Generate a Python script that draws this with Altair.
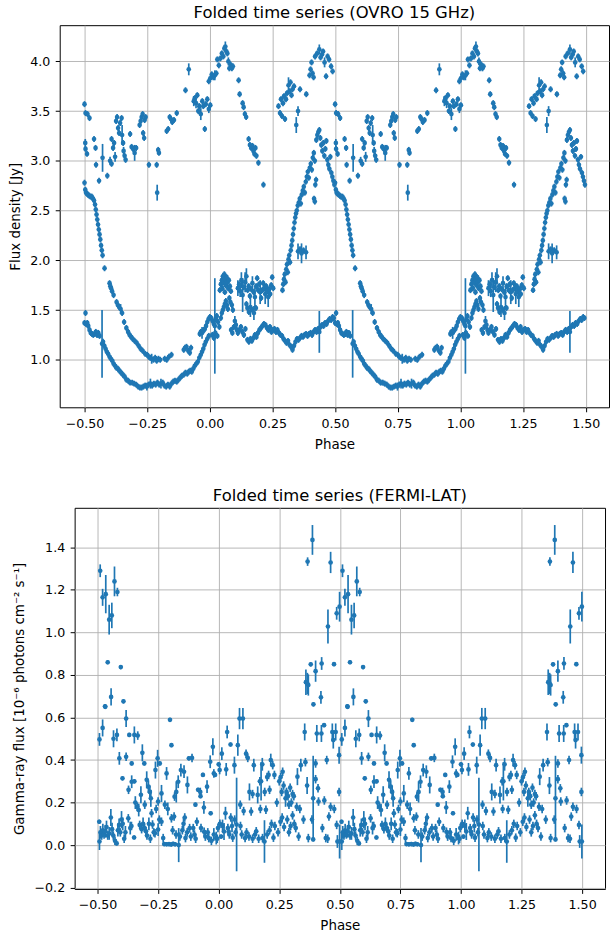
import altair as alt
import pandas as pd

BLUE = "#1f77b4"
FONT = "DejaVu Sans"

# ---------------------------------------------------------------------------
# OVRO 15 GHz folded light curve, one cycle (phase, flux density [Jy], error)
# ---------------------------------------------------------------------------
ovro_high = [
    (-0.500, 3.57, .03), (-0.496, 3.48, .03), (-0.488, 3.47, .03), (-0.480, 3.43, .03),
    (-0.497, 3.18, .04), (-0.496, 3.12, .03), (-0.490, 3.07, .03),
    (-0.462, 3.22, .03), (-0.456, 3.13, .03), (-0.454, 2.96, .03), (-0.442, 2.80, .03),
    (-0.428, 3.03, .14), (-0.409, 2.85, .03), (-0.398, 3.00, .04), (-0.392, 2.97, .03),
    (-0.392, 3.22, .03), (-0.386, 3.13, .03), (-0.382, 3.18, .03), (-0.378, 3.04, .05),
    (-0.374, 3.40, .03), (-0.370, 3.44, .03), (-0.366, 3.33, .03), (-0.362, 3.28, .03),
    (-0.358, 3.38, .03), (-0.352, 3.43, .03), (-0.350, 3.26, .10), (-0.346, 3.18, .03),
    (-0.344, 3.10, .04), (-0.340, 3.05, .03), (-0.336, 3.01, .03),
    (-0.318, 3.27, .03), (-0.312, 3.14, .03), (-0.306, 3.12, .03), (-0.300, 3.08, .08),
    (-0.294, 3.13, .03), (-0.280, 3.36, .03), (-0.276, 3.40, .03), (-0.272, 3.44, .03),
    (-0.268, 3.47, .03), (-0.266, 3.28, .03), (-0.262, 3.23, .03), (-0.260, 3.41, .03),
    (-0.256, 3.44, .03), (-0.243, 2.96, .03), (-0.212, 2.96, .03), (-0.206, 3.11, .03),
    (-0.203, 3.08, .03), (-0.210, 2.68, .08),
    (-0.172, 3.30, .03), (-0.166, 3.32, .03), (-0.160, 3.44, .03), (-0.155, 3.42, .03),
    (-0.150, 3.39, .03), (-0.143, 3.41, .03), (-0.132, 3.48, .03),
    (-0.097, 3.71, .03), (-0.084, 3.92, .06),
    (-0.064, 3.60, .05), (-0.060, 3.63, .03), (-0.055, 3.58, .05), (-0.050, 3.66, .03),
    (-0.046, 3.50, .03), (-0.042, 3.55, .03), (-0.036, 3.47, .06), (-0.030, 3.60, .03),
    (-0.026, 3.55, .03), (-0.020, 3.32, .03), (-0.016, 3.57, .03), (-0.010, 3.62, .03),
    (-0.004, 3.52, .04), (0.002, 3.56, .03),
    (-0.004, 3.80, .03), (0.002, 3.83, .03), (0.008, 3.87, .03), (0.014, 3.84, .03),
    (0.020, 3.86, .05), (0.026, 3.88, .03),
    (0.030, 4.02, .03), (0.036, 3.96, .03), (0.042, 4.03, .03), (0.048, 4.08, .03),
    (0.054, 4.05, .03), (0.058, 4.13, .03), (0.062, 4.15, .05), (0.066, 4.10, .03),
    (0.070, 4.08, .03), (0.074, 4.00, .04), (0.078, 3.93, .03), (0.082, 3.97, .03),
    (0.088, 3.93, .03), (0.092, 3.95, .03),
    (0.115, 3.81, .03), (0.119, 3.67, .03), (0.131, 3.58, .03), (0.135, 3.54, .03),
    (0.140, 3.47, .03), (0.145, 3.44, .03), (0.155, 3.22, .03), (0.160, 3.16, .03),
    (0.165, 3.13, .03), (0.170, 3.15, .03), (0.174, 3.10, .03), (0.178, 3.07, .03),
    (0.182, 3.13, .03), (0.186, 3.05, .03), (0.194, 2.98, .03), (0.214, 2.76, .03),
    (0.274, 3.55, .03), (0.280, 3.48, .03), (0.284, 3.62, .03), (0.288, 3.45, .03),
    (0.292, 3.58, .03), (0.296, 3.65, .03), (0.300, 3.42, .03), (0.304, 3.62, .03),
    (0.308, 3.68, .03), (0.314, 3.76, .08), (0.318, 3.70, .03), (0.322, 3.79, .03),
    (0.326, 3.66, .03), (0.330, 3.72, .03), (0.336, 3.75, .03),
    (0.345, 3.36, .08), (0.352, 3.50, .05), (0.360, 3.72, .03), (0.385, 3.67, .03),
    (0.398, 3.86, .03), (0.402, 3.92, .03), (0.406, 3.99, .03), (0.410, 3.88, .03),
    (0.414, 3.84, .03), (0.420, 4.05, .03), (0.428, 4.08, .03), (0.437, 4.12, .05),
    (0.442, 4.04, .03), (0.448, 4.07, .03), (0.452, 4.10, .03), (0.458, 3.99, .05),
    (0.464, 3.85, .03), (0.470, 4.05, .03), (0.476, 4.02, .03), (0.484, 3.95, .03),
    (0.490, 3.90, .03),
]

ovro_falling = [
    (-0.500, 2.78, .03), (-0.497, 2.71, .03), (-0.494, 2.68, .03), (-0.490, 2.67, .03),
    (-0.486, 2.66, .03), (-0.481, 2.65, .03), (-0.476, 2.64, .03), (-0.471, 2.64, .03),
    (-0.466, 2.62, .03), (-0.462, 2.60, .03), (-0.458, 2.56, .03), (-0.455, 2.51, .03),
    (-0.452, 2.46, .03), (-0.449, 2.41, .03), (-0.446, 2.36, .03), (-0.443, 2.31, .03),
    (-0.440, 2.26, .03), (-0.437, 2.21, .03), (-0.434, 2.15, .03), (-0.431, 2.10, .03),
    (-0.428, 2.05, .03), (-0.420, 1.92, .03),
    (-0.400, 1.77, .03), (-0.397, 1.74, .03), (-0.394, 1.72, .03), (-0.390, 1.69, .03),
    (-0.384, 1.65, .03), (-0.372, 1.58, .03), (-0.367, 1.55, .03), (-0.362, 1.53, .03),
    (-0.356, 1.51, .05), (-0.350, 1.47, .03), (-0.342, 1.38, .03), (-0.333, 1.32, .03),
    (-0.326, 1.28, .03), (-0.320, 1.25, .03), (-0.314, 1.23, .03), (-0.308, 1.21, .03),
    (-0.300, 1.19, .03), (-0.292, 1.17, .03), (-0.284, 1.14, .03), (-0.276, 1.11, .03),
    (-0.268, 1.09, .03), (-0.258, 1.06, .03), (-0.250, 1.05, .03), (-0.244, 1.03, .03),
    (-0.238, 1.02, .03), (-0.232, 1.01, .05), (-0.225, 1.00, .03), (-0.218, 1.02, .03),
    (-0.212, 0.99, .03), (-0.205, 1.01, .03), (-0.198, 1.00, .03), (-0.180, 1.01, .03),
    (-0.172, 1.00, .03), (-0.163, 1.03, .03), (-0.153, 1.05, .03),
    (-0.104, 1.10, .03), (-0.099, 1.12, .03), (-0.093, 1.13, .03), (-0.086, 1.09, .03),
    (-0.080, 1.07, .03), (-0.075, 1.12, .03),
]

ovro_trough = [
    (-0.500, 1.37, .03), (-0.496, 1.47, .03), (-0.494, 1.36, .03), (-0.489, 1.37, .03),
    (-0.485, 1.34, .03), (-0.480, 1.30, .03), (-0.475, 1.27, .03), (-0.470, 1.26, .03),
    (-0.465, 1.25, .03), (-0.460, 1.26, .03), (-0.455, 1.28, .03), (-0.450, 1.25, .03),
    (-0.445, 1.27, .03), (-0.440, 1.24, .03), (-0.430, 1.16, .34), (-0.426, 1.18, .03),
    (-0.421, 1.14, .03), (-0.416, 1.11, .03), (-0.411, 1.08, .03), (-0.406, 1.06, .03),
    (-0.400, 1.03, .03), (-0.395, 1.01, .03), (-0.389, 0.99, .03), (-0.384, 0.96, .03),
    (-0.378, 0.94, .03), (-0.373, 0.92, .03), (-0.367, 0.91, .03), (-0.361, 0.89, .03),
    (-0.354, 0.87, .03), (-0.347, 0.85, .03), (-0.340, 0.83, .03), (-0.333, 0.80, .03),
    (-0.326, 0.79, .03), (-0.318, 0.77, .03), (-0.310, 0.77, .03), (-0.302, 0.76, .03),
    (-0.294, 0.75, .03), (-0.286, 0.73, .03), (-0.279, 0.72, .03), (-0.272, 0.72, .03),
    (-0.265, 0.73, .03), (-0.258, 0.74, .03), (-0.251, 0.73, .04), (-0.244, 0.75, .03),
    (-0.237, 0.76, .05), (-0.230, 0.74, .03), (-0.223, 0.76, .03), (-0.216, 0.75, .03),
    (-0.209, 0.77, .03), (-0.202, 0.75, .03), (-0.195, 0.76, .05), (-0.188, 0.77, .03),
    (-0.181, 0.74, .03), (-0.174, 0.73, .03), (-0.167, 0.75, .03), (-0.160, 0.73, .03),
    (-0.153, 0.76, .03), (-0.146, 0.78, .03), (-0.139, 0.79, .03), (-0.132, 0.78, .03),
    (-0.125, 0.80, .03), (-0.118, 0.82, .03), (-0.111, 0.84, .03), (-0.104, 0.85, .03),
    (-0.097, 0.87, .03), (-0.090, 0.86, .03), (-0.084, 0.88, .03), (-0.078, 0.89, .03),
    (-0.072, 0.88, .03), (-0.066, 0.91, .03), (-0.060, 0.94, .03), (-0.054, 0.96, .03),
    (-0.048, 0.98, .03), (-0.042, 1.02, .03), (-0.036, 1.05, .03), (-0.031, 1.08, .03),
    (-0.026, 1.11, .03), (-0.021, 1.15, .03), (-0.016, 1.18, .03), (-0.010, 1.21, .03),
    (-0.004, 1.24, .03),
]

ovro_plateau = [
    (0.150, 1.20, .03), (0.156, 1.18, .03), (0.162, 1.21, .03), (0.168, 1.19, .03),
    (0.174, 1.22, .03), (0.180, 1.25, .03), (0.186, 1.23, .03), (0.192, 1.27, .03),
    (0.198, 1.30, .03), (0.204, 1.32, .03), (0.210, 1.34, .03), (0.216, 1.36, .03),
    (0.222, 1.35, .03), (0.228, 1.32, .03), (0.234, 1.30, .03), (0.240, 1.33, .03),
    (0.246, 1.28, .03), (0.252, 1.30, .03), (0.258, 1.31, .03), (0.264, 1.28, .03),
    (0.270, 1.30, .03), (0.276, 1.27, .03), (0.282, 1.25, .03), (0.288, 1.24, .03),
    (0.294, 1.21, .03), (0.300, 1.19, .03), (0.306, 1.17, .03), (0.312, 1.19, .03),
    (0.318, 1.15, .03), (0.324, 1.13, .03), (0.330, 1.10, .03), (0.336, 1.14, .03),
    (0.342, 1.18, .03), (0.348, 1.21, .03), (0.354, 1.20, .03), (0.360, 1.22, .03),
    (0.366, 1.24, .03), (0.372, 1.23, .03), (0.378, 1.25, .03), (0.384, 1.26, .03),
    (0.390, 1.24, .03), (0.396, 1.26, .03), (0.402, 1.27, .03), (0.408, 1.25, .03),
    (0.414, 1.28, .03), (0.420, 1.30, .03), (0.426, 1.28, .03), (0.432, 1.31, .03),
    (0.437, 1.28, .21), (0.442, 1.33, .03), (0.448, 1.35, .03), (0.454, 1.34, .03),
    (0.460, 1.37, .03), (0.466, 1.36, .03), (0.472, 1.39, .03), (0.478, 1.41, .03),
    (0.484, 1.40, .03), (0.490, 1.43, .03), (0.495, 1.42, .03),
]

ovro_middle = [
    (-0.040, 1.26, .03), (-0.036, 1.28, .03), (-0.031, 1.27, .06), (-0.026, 1.29, .03),
    (-0.020, 1.31, .03), (-0.015, 1.34, .03), (-0.010, 1.38, .03), (-0.005, 1.41, .03),
    (0.000, 1.43, .03), (0.006, 1.42, .03), (0.011, 1.39, .03), (0.016, 1.36, .03),
    (0.020, 1.34, .48), (0.024, 1.41, .03), (0.028, 1.44, .03), (0.033, 1.38, .03),
    (0.038, 1.33, .03), (0.010, 1.25, .03), (0.016, 1.22, .03), (0.022, 1.27, .03),
    (0.030, 1.24, .03), (0.044, 1.42, .03), (0.048, 1.47, .03), (0.052, 1.50, .03),
    (0.056, 1.53, .03), (0.060, 1.56, .03), (0.064, 1.59, .03), (0.068, 1.55, .03),
    (0.072, 1.51, .03),
    (0.040, 1.70, .03), (0.044, 1.76, .03), (0.048, 1.80, .03), (0.052, 1.84, .03),
    (0.055, 1.78, .03), (0.058, 1.86, .03), (0.061, 1.81, .03), (0.064, 1.75, .03),
    (0.067, 1.83, .03), (0.070, 1.78, .03), (0.073, 1.72, .03), (0.076, 1.80, .03),
    (0.080, 1.74, .03), (0.084, 1.69, .03), (0.050, 1.72, .03), (0.060, 1.68, .03),
    (0.078, 1.62, .03), (0.082, 1.58, .03), (0.088, 1.55, .03), (0.092, 1.50, .03),
    (0.085, 1.30, .03), (0.090, 1.27, .03), (0.096, 1.33, .03), (0.100, 1.39, .05),
    (0.104, 1.35, .03), (0.108, 1.30, .03), (0.112, 1.27, .03), (0.118, 1.30, .03),
    (0.124, 1.33, .03), (0.130, 1.28, .03), (0.136, 1.25, .03), (0.142, 1.31, .03),
    (0.112, 1.72, .08), (0.117, 1.76, .03), (0.121, 1.69, .06), (0.126, 1.80, .08),
    (0.131, 1.65, .17), (0.136, 1.73, .03), (0.141, 1.78, .10), (0.146, 1.84, .08),
    (0.151, 1.70, .03), (0.155, 1.74, .03),
    (0.146, 1.56, .03), (0.150, 1.52, .03), (0.156, 1.48, .03), (0.162, 1.53, .10),
    (0.170, 1.50, .03), (0.176, 1.47, .07), (0.184, 1.52, .03),
    (0.160, 1.64, .03), (0.165, 1.71, .03), (0.170, 1.77, .07), (0.175, 1.68, .03),
    (0.180, 1.63, .10), (0.185, 1.74, .03), (0.189, 1.82, .03), (0.193, 1.70, .03),
    (0.197, 1.76, .03), (0.201, 1.68, .12), (0.205, 1.62, .03), (0.209, 1.70, .03),
    (0.213, 1.77, .03), (0.217, 1.72, .03), (0.221, 1.66, .10), (0.225, 1.74, .03),
    (0.229, 1.69, .03), (0.233, 1.63, .10), (0.237, 1.71, .03), (0.241, 1.66, .03),
    (0.245, 1.75, .03), (0.249, 1.83, .03), (0.253, 1.72, .03),
]

ovro_rising = [
    (0.290, 1.70, .03), (0.293, 1.76, .03), (0.296, 1.81, .07), (0.299, 1.86, .03),
    (0.302, 1.78, .03), (0.305, 1.91, .03), (0.308, 1.96, .03), (0.311, 1.88, .03),
    (0.314, 2.01, .03), (0.317, 2.05, .03), (0.320, 1.98, .03), (0.323, 2.10, .03),
    (0.326, 2.15, .03), (0.329, 2.20, .03), (0.332, 2.26, .03), (0.335, 2.32, .03),
    (0.338, 2.38, .03), (0.341, 2.43, .03), (0.344, 2.47, .03),
    (0.352, 2.09, .08), (0.360, 2.11, .03), (0.366, 2.07, .10), (0.374, 2.10, .03),
    (0.384, 2.08, .07),
    (0.347, 2.50, .03), (0.351, 2.55, .03), (0.355, 2.58, .03), (0.359, 2.62, .03),
    (0.363, 2.57, .03), (0.367, 2.66, .03), (0.371, 2.70, .03), (0.375, 2.74, .03),
    (0.379, 2.68, .03), (0.383, 2.79, .03), (0.387, 2.84, .03), (0.391, 2.89, .03),
    (0.395, 2.83, .03), (0.399, 2.93, .03), (0.403, 2.97, .03), (0.407, 2.91, .03),
    (0.411, 3.03, .03), (0.415, 3.08, .03), (0.419, 3.00, .03), (0.416, 2.62, .03),
    (0.419, 2.59, .03), (0.421, 2.76, .03), (0.424, 2.81, .03), (0.425, 3.21, .03),
    (0.429, 3.26, .03), (0.433, 3.29, .03), (0.437, 3.31, .03), (0.441, 3.23, .03),
    (0.445, 3.16, .03), (0.449, 3.10, .03), (0.453, 3.18, .03), (0.457, 3.05, .03),
    (0.461, 3.12, .03), (0.465, 3.20, .03), (0.469, 3.01, .03), (0.473, 2.96, .03),
    (0.477, 2.92, .03), (0.481, 3.04, .03), (0.485, 2.88, .03), (0.489, 2.84, .03),
    (0.493, 2.80, .03), (0.497, 2.76, .03),
]

# ---------------------------------------------------------------------------
# Fermi-LAT folded light curve, one cycle (phase, flux [1e-6 ph/cm2/s], error)
# ---------------------------------------------------------------------------
fermi_flare = [
    (-0.489, 1.290, .03), (-0.479, 1.165, .04), (-0.466, 1.180, .09), (-0.452, 1.060, .07),
    (-0.441, 1.080, .06), (-0.430, 1.240, .07), (-0.418, 1.190, .02),
    (-0.458, 0.860, .01), (-0.404, 0.837, .01), (-0.469, 0.653, .01), (-0.444, 0.697, .04),
    (-0.393, 0.676, .01), (-0.382, 0.595, .04),
    (0.367, 1.333, .02), (0.387, 1.435, .07), (0.462, 1.329, .05), (0.487, 1.090, .03),
    (0.499, 1.121, .07), (0.451, 1.028, .08), (0.360, 0.766, .06), (0.366, 0.760, .05),
    (0.370, 0.753, .05), (0.380, 0.850, .01), (0.400, 0.818, .05), (0.425, 0.854, .03),
    (0.476, 0.851, .01), (0.391, 0.662, .01), (0.422, 0.695, .03),
]

fermi_early = [
    (-0.492, 0.497, .03), (-0.492, 0.017, .04), (-0.493, 0.110, .01), (-0.479, 0.551, .04),
    (-0.468, 0.650, .01), (-0.434, 0.500, .04), (-0.420, 0.518, .03),
    (-0.488, 0.060, .03), (-0.483, 0.045, .02), (-0.478, 0.070, .03), (-0.473, 0.050, .02),
    (-0.468, 0.065, .03), (-0.463, 0.085, .03), (-0.458, 0.045, .02), (-0.452, 0.055, .03),
    (-0.445, 0.130, .04), (-0.440, 0.075, .03), (-0.435, 0.045, .02), (-0.428, 0.020, .02),
    (-0.421, 0.008, .01), (-0.416, 0.070, .03), (-0.411, 0.095, .03), (-0.406, 0.060, .02),
    (-0.401, 0.120, .04), (-0.396, 0.100, .03), (-0.390, 0.030, .02), (-0.385, 0.060, .03),
    (-0.410, 0.408, .03), (-0.382, 0.415, .02), (-0.397, 0.314, .01), (-0.369, 0.518, .01),
    (-0.348, 0.518, .04), (-0.334, 0.515, .02), (-0.359, 0.384, .01), (-0.372, 0.260, .02),
    (-0.359, 0.298, .03), (-0.348, 0.300, .01), (-0.373, 0.126, .02), (-0.365, 0.080, .03),
    (-0.360, 0.090, .02), (-0.349, 0.036, .01), (-0.344, 0.200, .03), (-0.336, 0.180, .02),
    (-0.330, 0.165, .03), (-0.326, 0.095, .02), (-0.318, 0.075, .02), (-0.321, 0.237, .04),
    (-0.315, 0.434, .04), (-0.307, 0.384, .01), (-0.305, 0.190, .02), (-0.312, 0.100, .03),
    (-0.306, 0.080, .02), (-0.300, 0.065, .02), (-0.296, 0.045, .02), (-0.288, 0.100, .03),
    (-0.282, 0.030, .02), (-0.297, 0.307, .04), (-0.290, 0.275, .03), (-0.284, 0.250, .03),
    (-0.280, 0.220, .04), (-0.277, 0.150, .02), (-0.273, 0.097, .02), (-0.268, 0.060, .02),
    (-0.263, 0.056, .02), (-0.261, 0.353, .04), (-0.258, 0.170, .02), (-0.252, 0.408, .04),
    (-0.243, 0.384, .01), (-0.250, 0.205, .02), (-0.245, 0.120, .02), (-0.250, 0.073, .03),
    (-0.236, 0.110, .02), (-0.229, 0.033, .02), (-0.236, 0.243, .04), (-0.222, 0.190, .02),
    (-0.225, 0.005, .01), (-0.215, 0.004, .01), (-0.205, 0.005, .01), (-0.196, 0.003, .01),
    (-0.188, 0.006, .01), (-0.180, 0.004, .01),
    (-0.215, 0.337, .03), (-0.201, 0.589, .01), (-0.195, 0.470, .01), (-0.195, 0.126, .02),
    (-0.184, 0.134, .02), (-0.210, 0.170, .03), (-0.182, 0.228, .02), (-0.175, 0.250, .05),
    (-0.167, 0.298, .03), (-0.165, 0.000, .08), (-0.160, 0.040, .02), (-0.190, 0.070, .02),
    (-0.176, 0.050, .02), (-0.150, 0.070, .02), (-0.145, 0.100, .03),
]

fermi_late = [
    (-0.156, 0.353, .03), (-0.143, 0.345, .03), (-0.140, 0.130, .02), (-0.137, 0.033, .02),
    (-0.129, 0.283, .04), (-0.123, 0.408, .01), (-0.110, 0.410, .02), (-0.120, 0.080, .02),
    (-0.115, 0.040, .02), (-0.130, 0.060, .02), (-0.105, 0.080, .02), (-0.100, 0.050, .02),
    (-0.095, 0.030, .02), (-0.096, 0.190, .01), (-0.090, 0.110, .02), (-0.085, 0.260, .01),
    (-0.076, 0.250, .02), (-0.075, 0.230, .01), (-0.073, 0.080, .02), (-0.065, 0.330, .01),
    (-0.061, 0.177, .03), (-0.060, 0.063, .02), (-0.055, 0.040, .02), (-0.048, 0.275, .03),
    (-0.045, 0.060, .02), (-0.041, 0.033, .02), (-0.035, 0.392, .03), (-0.033, 0.150, .01),
    (-0.030, 0.020, .02), (-0.024, 0.462, .04), (-0.020, 0.337, .02), (-0.020, 0.050, .03),
    (-0.015, 0.330, .01), (-0.010, 0.033, .03), (-0.006, 0.030, .02), (-0.003, 0.080, .02),
    (0.000, 0.380, .01), (0.004, 0.353, .02), (0.005, 0.100, .02), (0.013, 0.430, .03),
    (0.010, 0.040, .01), (0.016, 0.090, .03), (0.022, 0.064, .04), (0.028, 0.150, .03),
    (0.031, 0.356, .03), (0.035, 0.532, .03), (0.038, 0.080, .02), (0.041, 0.063, .02),
    (0.044, 0.050, .02), (0.049, 0.473, .01), (0.050, 0.130, .02), (0.055, 0.090, .03),
    (0.058, 0.035, .02), (0.065, 0.376, .04), (0.066, 0.120, .02), (0.070, 0.060, .02),
    (0.074, 0.097, .22), (0.079, 0.470, .05), (0.086, 0.595, .05), (0.100, 0.595, .05),
    (0.089, 0.190, .02), (0.090, 0.090, .02), (0.095, 0.050, .02), (0.103, 0.160, .02),
    (0.109, 0.033, .02), (0.113, 0.430, .02), (0.115, 0.060, .02), (0.120, 0.410, .02),
    (0.125, 0.040, .02), (0.127, 0.250, .04), (0.134, 0.158, .02), (0.140, 0.240, .02),
    (0.140, 0.030, .02), (0.145, 0.376, .03), (0.150, 0.050, .02), (0.155, 0.065, .02),
    (0.161, 0.236, .04), (0.165, 0.030, .02), (0.170, 0.300, .02), (0.172, 0.170, .02),
    (0.175, 0.300, .09), (0.180, 0.380, .03), (0.181, 0.033, .02), (0.189, 0.017, .10),
    (0.190, 0.250, .02), (0.195, 0.166, .02), (0.200, 0.320, .02), (0.200, 0.050, .02),
    (0.206, 0.330, .02), (0.210, 0.260, .02), (0.210, 0.070, .02), (0.215, 0.400, .03),
    (0.218, 0.100, .02), (0.223, 0.376, .02), (0.226, 0.035, .02), (0.230, 0.330, .02),
    (0.232, 0.090, .02), (0.240, 0.200, .02), (0.245, 0.060, .02), (0.250, 0.300, .02),
    (0.255, 0.110, .02), (0.256, 0.320, .02), (0.260, 0.250, .02), (0.262, 0.130, .02),
    (0.264, 0.345, .02), (0.268, 0.280, .02), (0.270, 0.085, .02), (0.276, 0.220, .04),
    (0.280, 0.250, .02), (0.283, 0.120, .02), (0.286, 0.230, .02), (0.290, 0.190, .02),
    (0.290, 0.060, .02), (0.295, 0.270, .02), (0.297, 0.090, .02), (0.300, 0.200, .02),
    (0.305, 0.240, .02), (0.305, 0.140, .02), (0.310, 0.230, .02), (0.312, 0.100, .02),
    (0.318, 0.080, .02), (0.322, 0.180, .02), (0.325, 0.322, .04), (0.330, 0.040, .02),
    (0.335, 0.170, .02), (0.339, 0.376, .03), (0.350, 0.120, .02), (0.355, 0.532, .04),
    (0.358, 0.390, .02), (0.365, 0.280, .04), (0.370, 0.033, .02), (0.390, 0.220, .20),
    (0.385, 0.120, .02), (0.390, 0.027, .01), (0.400, 0.384, .02), (0.400, 0.310, .02),
    (0.405, 0.525, .04), (0.410, 0.267, .02), (0.412, 0.205, .02), (0.424, 0.525, .04),
    (0.428, 0.080, .02), (0.435, 0.564, .01), (0.436, 0.210, .02), (0.442, 0.033, .02),
    (0.446, 0.400, .02), (0.450, 0.030, .02), (0.455, 0.134, .02), (0.462, 0.180, .02),
    (0.469, 0.532, .04), (0.473, 0.494, .04), (0.477, 0.170, .02), (0.483, 0.532, .04),
    (0.487, 0.095, .02), (0.490, 0.017, .03), (0.497, 0.423, .04), (0.497, 0.250, .02),
    (0.499, 0.017, .08),
]

PHASE_TICKS = [-0.5, -0.25, 0.0, 0.25, 0.5, 0.75, 1.0, 1.25, 1.5]
OVRO_TICKS = [1.0, 1.5, 2.0, 2.5, 3.0, 3.5, 4.0]
FERMI_TICKS = [-0.2, 0.0, 0.2, 0.4, 0.6, 0.8, 1.0, 1.2, 1.4]


def folded_table(*groups):
    """One row per measurement, drawn twice: at its phase and one cycle later."""
    rows = []
    for group in groups:
        for phase, flux, err in group:
            for cycle in (0.0, 1.0):
                rows.append({"phase": phase + cycle, "flux": flux,
                             "lo": flux - err, "hi": flux + err})
    return pd.DataFrame(rows)


def panel(df, title, ytitle, xdom, ydom, yticks, width, height):
    x = alt.X("phase:Q", scale=alt.Scale(domain=xdom, nice=False, zero=False),
              axis=alt.Axis(values=PHASE_TICKS, format=".2f", title="Phase"))
    yaxis = alt.Axis(values=yticks, format=".1f", title=ytitle)
    yscale = alt.Scale(domain=ydom, nice=False, zero=False)
    bars = alt.Chart(df).mark_rule(color=BLUE, strokeWidth=1.7).encode(
        x=x, y=alt.Y("lo:Q", scale=yscale, axis=yaxis), y2="hi:Q")
    dots = alt.Chart(df).mark_circle(color=BLUE, size=22, opacity=1).encode(
        x=x, y=alt.Y("flux:Q", scale=yscale, axis=yaxis))
    return alt.layer(bars, dots).properties(
        width=width, height=height,
        title=alt.TitleParams(title, anchor="middle", offset=3.5))


def gutter(w):
    """Empty, invisible column that sets how far a panel sits from the left edge."""
    return alt.Chart(pd.DataFrame({"v": [0]})).mark_point(opacity=0).properties(
        width=w, height=1, view=alt.ViewBackground(stroke="transparent"))


ovro_df = folded_table(ovro_high, ovro_falling, ovro_trough, ovro_plateau,
                       ovro_middle, ovro_rising)
fermi_df = folded_table(fermi_flare, fermi_early, fermi_late)

top = panel(ovro_df, "Folded time series (OVRO 15 GHz)", "Flux density [Jy]",
            [-0.599, 1.593], [0.522, 4.364], OVRO_TICKS, 552, 384)
bottom = panel(fermi_df, "Folded time series (FERMI-LAT)",
               "Gamma-ray flux [10⁻⁶ photons cm⁻² s⁻¹]",
               [-0.5945, 1.5945], [-0.206, 1.586], FERMI_TICKS, 533, 383)

chart = alt.vconcat(
    alt.hconcat(gutter(2.5), top, spacing=0),
    alt.hconcat(gutter(9), bottom, spacing=0),
    spacing=35,
).properties(
    padding={"left": 0, "top": 2, "right": 0, "bottom": 0},
    background="white",
).configure_view(
    stroke="black", strokeWidth=1
).configure_axis(
    domain=False,
    grid=True, gridColor="#b0b0b0", gridWidth=0.9,
    ticks=True, tickColor="black", tickSize=4.5, tickWidth=1,
    labelFont=FONT, labelFontSize=12.7, labelColor="black", labelPadding=5.5,
    titleFont=FONT, titleFontSize=13.5, titleFontWeight="normal", titleColor="black",
    titlePadding=7.5,
).configure_title(
    font=FONT, fontSize=16.5, fontWeight="normal", color="black"
)

chart.save("out.html", embed_options={"renderer": "svg", "actions": False})
